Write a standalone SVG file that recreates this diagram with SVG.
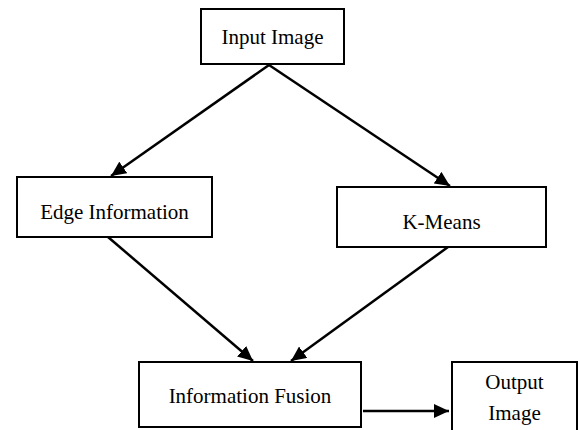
<svg xmlns="http://www.w3.org/2000/svg" width="578" height="430" viewBox="0 0 578 430">
  <style>
    .box { fill: #ffffff; stroke: #000000; stroke-width: 2; }
    .label { font-family: "Liberation Serif", "Times New Roman", serif; font-size: 21px; fill: #000000; text-anchor: middle; }
    .edge { stroke: #000000; stroke-width: 2.5; fill: none; marker-end: url(#arrow); }
  </style>
  <defs>
    <marker id="arrow" markerUnits="userSpaceOnUse" markerWidth="16" markerHeight="14" refX="15" refY="7" orient="auto">
      <path d="M0,0 L15,7 L0,14 Z" fill="#000000"/>
    </marker>
  </defs>
  <rect width="578" height="430" fill="#ffffff"/>

  <!-- flow arrows -->
  <g id="connectors">
    <line class="edge" x1="269" y1="65" x2="111" y2="176"/>
    <line class="edge" x1="269" y1="65" x2="450" y2="186"/>
    <line class="edge" x1="108" y1="237" x2="253" y2="361"/>
    <line class="edge" x1="448" y1="247" x2="291" y2="361"/>
    <line class="edge" x1="363" y1="411" x2="449" y2="411"/>
  </g>

  <g id="input-image">
    <rect class="box" x="201" y="9" width="143" height="55"/>
    <text class="label" x="272.5" y="43.5">Input Image</text>
  </g>

  <g id="edge-information">
    <rect class="box" x="17" y="177" width="195" height="60"/>
    <text class="label" x="114.5" y="218.5">Edge Information</text>
  </g>

  <g id="k-means">
    <rect class="box" x="337" y="187" width="209" height="60"/>
    <text class="label" x="441.5" y="228.5">K-Means</text>
  </g>

  <g id="information-fusion">
    <rect class="box" x="139" y="362" width="222" height="65"/>
    <text class="label" x="250" y="403">Information Fusion</text>
  </g>

  <g id="output-image">
    <rect class="box" x="452" y="362" width="125" height="80"/>
    <text class="label" x="514.5" y="389">Output</text>
    <text class="label" x="514.5" y="420">Image</text>
  </g>
</svg>
